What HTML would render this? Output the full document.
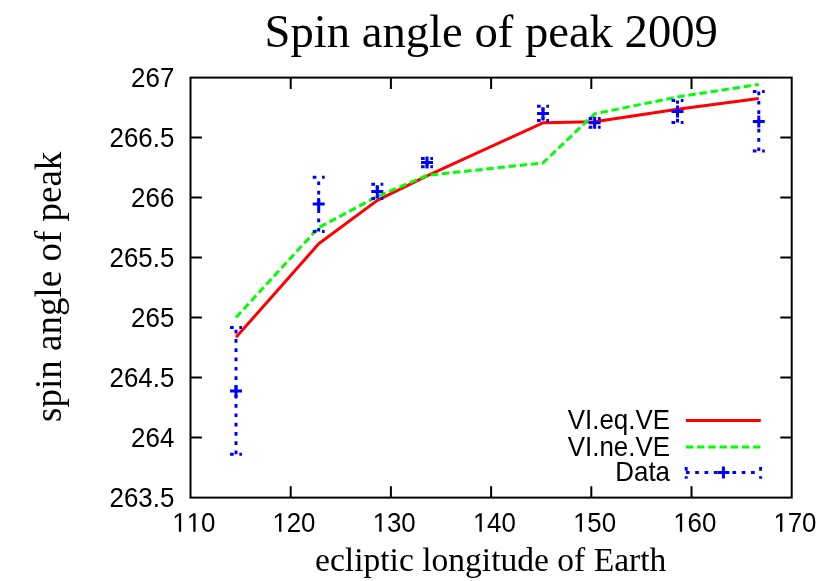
<!DOCTYPE html>
<html><head><meta charset="utf-8"><title>Spin angle of peak 2009</title>
<style>html,body{margin:0;padding:0;background:#fff;}svg{display:block;will-change:transform;}text{fill:#000;}.s{font-family:"Liberation Sans",sans-serif;font-size:25.90px;}.t{font-family:"Liberation Serif",serif;}</style></head><body>
<svg width="830" height="581" viewBox="0 0 830 581">
<rect x="0" y="0" width="830" height="581" fill="#fff"/>
<g stroke="#000" stroke-width="2.00" fill="none" stroke-linecap="butt">
<path d="M190.50 437.60H201.90M791.70 437.60H780.30"/>
<path d="M190.50 377.60H201.90M791.70 377.60H780.30"/>
<path d="M190.50 317.60H201.90M791.70 317.60H780.30"/>
<path d="M190.50 257.60H201.90M791.70 257.60H780.30"/>
<path d="M190.50 197.60H201.90M791.70 197.60H780.30"/>
<path d="M190.50 137.60H201.90M791.70 137.60H780.30"/>
<path d="M290.70 497.60V486.20M290.70 77.60V89.00"/>
<path d="M390.90 497.60V486.20M390.90 77.60V89.00"/>
<path d="M491.10 497.60V486.20M491.10 77.60V89.00"/>
<path d="M591.30 497.60V486.20M591.30 77.60V89.00"/>
<path d="M691.50 497.60V486.20M691.50 77.60V89.00"/>
<rect x="190.50" y="77.60" width="601.20" height="420.00"/>
</g>
<text class="s" transform="translate(174.3,506.50) scale(1,1.040)" text-anchor="end">263.5</text>
<text class="s" transform="translate(174.3,446.50) scale(1,1.040)" text-anchor="end">264</text>
<text class="s" transform="translate(174.3,386.50) scale(1,1.040)" text-anchor="end">264.5</text>
<text class="s" transform="translate(174.3,326.50) scale(1,1.040)" text-anchor="end">265</text>
<text class="s" transform="translate(174.3,266.50) scale(1,1.040)" text-anchor="end">265.5</text>
<text class="s" transform="translate(174.3,206.50) scale(1,1.040)" text-anchor="end">266</text>
<text class="s" transform="translate(174.3,146.50) scale(1,1.040)" text-anchor="end">266.5</text>
<text class="s" transform="translate(174.3,86.50) scale(1,1.040)" text-anchor="end">267</text>
<path fill="#000" transform="translate(172.09,531.8) scale(0.01265,-0.01315)" d="M535 0V1237L217 1010V1180L550 1409H716V0Z"/>
<path fill="#000" transform="translate(186.50,531.8) scale(0.01265,-0.01315)" d="M535 0V1237L217 1010V1180L550 1409H716V0Z"/>
<text class="s" transform="translate(200.90,531.8) scale(1,1.040)">0</text>
<path fill="#000" transform="translate(272.29,531.8) scale(0.01265,-0.01315)" d="M535 0V1237L217 1010V1180L550 1409H716V0Z"/>
<text class="s" transform="translate(286.70,531.8) scale(1,1.040)">2</text>
<text class="s" transform="translate(301.10,531.8) scale(1,1.040)">0</text>
<path fill="#000" transform="translate(372.49,531.8) scale(0.01265,-0.01315)" d="M535 0V1237L217 1010V1180L550 1409H716V0Z"/>
<text class="s" transform="translate(386.90,531.8) scale(1,1.040)">3</text>
<text class="s" transform="translate(401.30,531.8) scale(1,1.040)">0</text>
<path fill="#000" transform="translate(472.69,531.8) scale(0.01265,-0.01315)" d="M535 0V1237L217 1010V1180L550 1409H716V0Z"/>
<text class="s" transform="translate(487.10,531.8) scale(1,1.040)">4</text>
<text class="s" transform="translate(501.50,531.8) scale(1,1.040)">0</text>
<path fill="#000" transform="translate(572.89,531.8) scale(0.01265,-0.01315)" d="M535 0V1237L217 1010V1180L550 1409H716V0Z"/>
<text class="s" transform="translate(587.30,531.8) scale(1,1.040)">5</text>
<text class="s" transform="translate(601.70,531.8) scale(1,1.040)">0</text>
<path fill="#000" transform="translate(673.09,531.8) scale(0.01265,-0.01315)" d="M535 0V1237L217 1010V1180L550 1409H716V0Z"/>
<text class="s" transform="translate(687.50,531.8) scale(1,1.040)">6</text>
<text class="s" transform="translate(701.90,531.8) scale(1,1.040)">0</text>
<path fill="#000" transform="translate(773.29,531.8) scale(0.01265,-0.01315)" d="M535 0V1237L217 1010V1180L550 1409H716V0Z"/>
<text class="s" transform="translate(787.70,531.8) scale(1,1.040)">7</text>
<text class="s" transform="translate(802.10,531.8) scale(1,1.040)">0</text>
<text class="t" x="491.2" y="47" text-anchor="middle" font-size="46.65">Spin angle of peak 2009</text>
<text class="t" x="490.7" y="571.2" text-anchor="middle" font-size="33.55">ecliptic longitude of Earth</text>
<text class="t" transform="translate(61,286.8) rotate(-90)" text-anchor="middle" font-size="37">spin angle of peak</text>
<text class="s" transform="translate(670.0,429.40) scale(1,1.040)" text-anchor="end">VI.eq.VE</text>
<text class="s" transform="translate(670.0,455.80) scale(1,1.040)" text-anchor="end">VI.ne.VE</text>
<text class="s" transform="translate(670.0,481.40) scale(1,1.040)" text-anchor="end">Data</text>
<g fill="none" stroke-width="3.00" stroke-linejoin="round">
<path stroke="#ff0000" d="M236.00 337.30 L318.70 243.80 L377.30 200.40 L427.00 175.80 L543.00 122.80 L594.65 121.80 L677.50 109.20 L758.80 98.40"/>
<path stroke="#ff0000" d="M685.9 420.5H760.8"/>
<path stroke="#00ff00" stroke-dasharray="7.40 3.79" d="M236.00 317.40 L318.70 227.60 L377.30 196.50 L427.00 175.40 L543.00 162.90 L594.65 113.80 L677.50 96.90 L758.80 84.40"/>
<path stroke="#00ff00" stroke-dasharray="7.40 3.79" d="M685.9 446.9H760.8"/>
</g>
<g fill="none" stroke="#0000ff" stroke-width="3.00">
<g stroke-dasharray="3.70 5.60">
<path d="M236.00 454.30V327.50"/>
<path d="M230.00 454.30H242.00"/>
<path d="M230.00 327.50H242.00"/>
<path d="M318.70 231.60V177.30"/>
<path d="M312.70 231.60H324.70"/>
<path d="M312.70 177.30H324.70"/>
<path d="M377.30 198.60V184.20"/>
<path d="M371.30 198.60H383.30"/>
<path d="M371.30 184.20H383.30"/>
<path d="M427.00 166.70V158.40"/>
<path d="M421.00 166.70H433.00"/>
<path d="M421.00 158.40H433.00"/>
<path d="M543.00 120.45V106.35"/>
<path d="M537.00 120.45H549.00"/>
<path d="M537.00 106.35H549.00"/>
<path d="M594.65 127.20V118.50"/>
<path d="M588.65 127.20H600.65"/>
<path d="M588.65 118.50H600.65"/>
<path d="M677.50 122.45V100.40"/>
<path d="M671.50 122.45H683.50"/>
<path d="M671.50 100.40H683.50"/>
<path d="M758.80 151.10V91.60"/>
<path d="M752.80 151.10H764.80"/>
<path d="M752.80 91.60H764.80"/>
<path d="M685.9 472.5H760.0"/>
<path d="M686.2 467.0V478.7"/>
<path d="M760.6 467.0V478.7"/>
</g>
<path d="M230.00 391.00H242.00M236.00 385.00V397.00"/>
<path d="M312.70 204.00H324.70M318.70 198.00V210.00"/>
<path d="M371.30 191.40H383.30M377.30 185.40V197.40"/>
<path d="M421.00 162.60H433.00M427.00 156.60V168.60"/>
<path d="M537.00 113.40H549.00M543.00 107.40V119.40"/>
<path d="M588.65 122.80H600.65M594.65 116.80V128.80"/>
<path d="M671.50 111.40H683.50M677.50 105.40V117.40"/>
<path d="M752.80 121.40H764.80M758.80 115.40V127.40"/>
<path d="M717.40 472.50H729.40M723.40 466.50V478.50"/>
</g>
</svg></body></html>
